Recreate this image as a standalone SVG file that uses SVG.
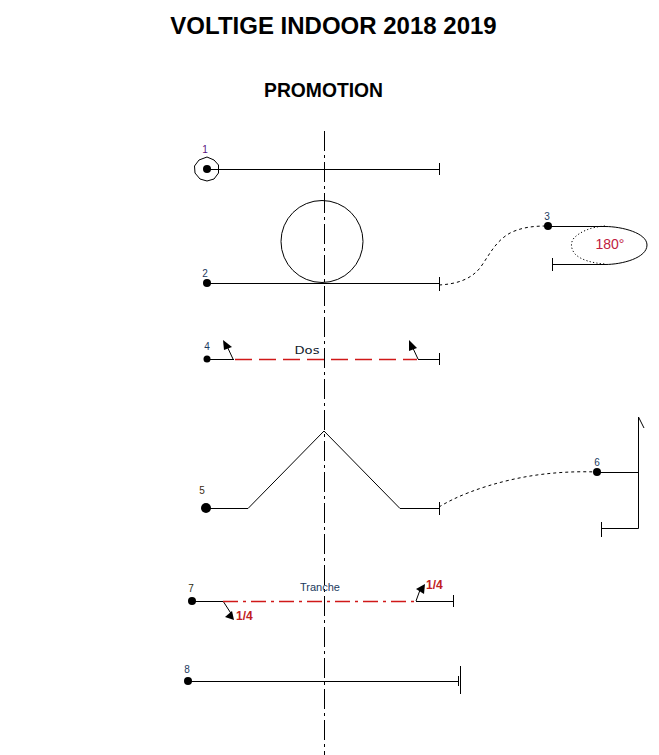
<svg xmlns="http://www.w3.org/2000/svg" width="659" height="755" viewBox="0 0 659 755">
<style>
.l{fill:none;stroke:#000;stroke-width:1}
.d{fill:none;stroke:#000;stroke-width:1;stroke-dasharray:3 3}
.p{fill:none;stroke:#000;stroke-width:1;stroke-dasharray:1.2 2.2}
.r{fill:none;stroke:#d01818;stroke-width:1.3}
.a{fill:#000;stroke:none}
.n{font-family:"Liberation Sans",Arial,sans-serif;font-size:10px;text-anchor:middle}
.t{font-family:"Liberation Sans",Arial,sans-serif;font-weight:bold;fill:#000;text-anchor:middle}
.q{font-family:"Liberation Sans",Arial,sans-serif;font-weight:bold;font-size:12px;fill:#c02020}
</style>
<rect width="659" height="755" fill="#fff"/>
<text class="t" x="333.500" y="33.500" font-size="24">VOLTIGE INDOOR 2018 2019</text>
<text class="t" x="323.500" y="96.500" font-size="19.300">PROMOTION</text>
<g id="connectors">
<path id="axis" fill="none" stroke="#000" stroke-width="1" stroke-dasharray="20 4 3 4" d="M324.500 131V755"/>
<path class="d" d="M439 285C456 284 470 280 480 268C490 254 496 240 512 232C524 227 534 226 548 226"/>
<path class="d" d="M439 507C455 497 480 487 510 480C540 473 570 471 597 472"/>
</g>
<g id="node-1">
<polygon points="207,157 214,160 218.500,165 218.500,173 214,179 207,181 200,179 195,173 194.500,166 199,160" fill="none" stroke="#000" stroke-width="1"/>
<circle class="a" cx="207" cy="169" r="4"/>
<path class="l" d="M207 169.500H439M439.500 163V175"/>
<text class="n" x="205" y="153" fill="#5a1080">1</text>
</g>
<g id="node-2">
<circle class="a" cx="207" cy="283" r="4"/>
<path class="l" d="M207 283.500H439M439.500 277V291"/>
<circle class="l" cx="322" cy="241.500" r="41"/>
<text class="n" x="205" y="277" fill="#1a3a60">2</text>
</g>
<g id="node-3">
<circle class="a" cx="548" cy="226" r="4"/>
<path class="l" d="M548 226.500H605C622 226.500 647 233 647 245C647 258 622 264.500 605 264.500H552M552.500 258V271"/>
<path class="p" d="M605 226C590 227 580 232 574 238C570 243 571 249 575 254C581 260 592 263 605 264"/>
<text class="n" x="547" y="220" fill="#1a3a60">3</text>
<text x="610" y="249" font-family="'Liberation Sans',Arial,sans-serif" font-size="14" fill="#c02040" text-anchor="middle">180°</text>
</g>
<g id="node-4">
<circle class="a" cx="207" cy="359" r="3.500"/>
<path class="l" d="M207 359.500H234M418 359.500H439M439.500 353V365M233 359L226 344M418 359L411 344"/>
<path class="r" stroke-dasharray="17 7" d="M235 359.500H417"/>
<polygon class="a" points="223,340 232,347 224,350"/>
<polygon class="a" points="409,340 417,348 409,351"/>
<text class="n" x="207" y="350" fill="#1a3a60">4</text>
<text x="307" y="354" font-family="'DejaVu Sans',sans-serif" font-size="10.500" fill="#10202c" text-anchor="middle" textLength="25" lengthAdjust="spacingAndGlyphs">Dos</text>
</g>
<g id="node-5">
<circle class="a" cx="206" cy="508" r="5"/>
<path class="l" d="M206 508.500H248L324 431L400 508.500H439M439.500 502V515"/>
<text class="n" x="202" y="494" fill="#3a2a10">5</text>
</g>
<g id="node-6">
<circle class="a" cx="597" cy="472" r="4"/>
<path class="l" d="M597 472.500H638.500M638.500 417V528.500H601.500M601.500 522V537M638.500 417L644 428"/>
<text class="n" x="597" y="466" fill="#1a3a60">6</text>
</g>
<g id="node-7">
<circle class="a" cx="192" cy="601" r="4"/>
<path class="l" d="M192 601.500H223M416 601.500H453M453.500 595V607M223 601L232 615M416 601L420 590"/>
<path class="r" stroke-dasharray="15 5 3 5" d="M223 601.500H416"/>
<polygon class="a" points="234,620 225,617 232,611"/>
<polygon class="a" points="425,584 424,594 416,589"/>
<text class="n" x="191" y="592" fill="#2a2a10">7</text>
<text x="320" y="591" font-family="'Liberation Sans',Arial,sans-serif" font-size="11" fill="#1a3a60" text-anchor="middle">Tranche</text>
<text class="q" x="236" y="620">1/4</text>
<text class="q" x="426" y="589">1/4</text>
</g>
<g id="node-8">
<circle class="a" cx="188" cy="681" r="4"/>
<path class="l" d="M188 681.500H458M458.500 676V686M460.500 666V694"/>
<text class="n" x="187" y="673" fill="#1a3a60">8</text>
</g>
</svg>
